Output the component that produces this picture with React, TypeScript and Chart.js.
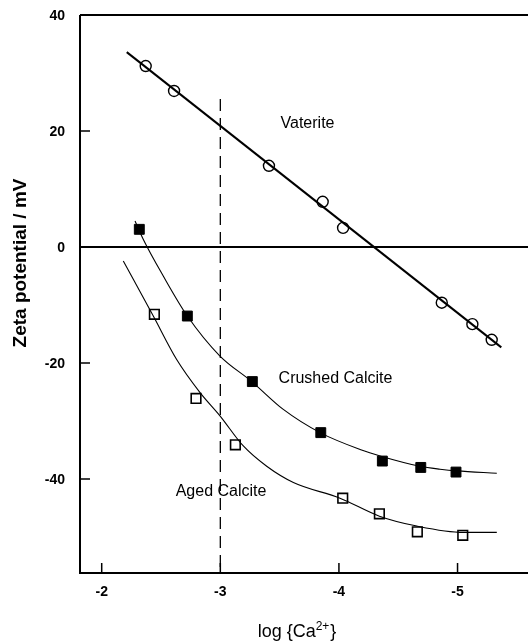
import React, { useEffect, useRef } from 'react';
import { Chart, registerables } from 'chart.js';
Chart.register(...registerables);

// Axis ticks
const xTicks = [-2, -3, -4, -5];
const yTicks = [40, 20, 0, -20, -40];
const xTickLabels = ['-2', '-3', '-4', '-5'];
const yTickLabels = ['40', '20', '0', '-20', '-40'];

// Vaterite (open circles) and its straight fit
const vateriteX = [-2.371, -2.61, -3.41, -3.863, -4.035, -4.867, -5.125, -5.288];
const vateriteY = [31.2, 26.9, 14.0, 7.8, 3.3, -9.6, -13.3, -16.0];
const vateriteFitX = [-2.211, -5.369];
const vateriteFitY = [33.6, -17.3];

// Crushed calcite (filled squares) and its curve
const crushedX = [-2.317, -2.722, -3.27, -3.847, -4.366, -4.69, -4.987];
const crushedY = [3.05, -11.9, -23.2, -32.0, -36.9, -38.0, -38.8];
const crushedCurveX = [-2.281, -2.351, -2.519, -2.722, -2.997, -3.265, -3.531, -3.841, -4.178, -4.361, -4.684, -4.852, -4.993, -5.331];
const crushedCurveY = [4.5, 1.3, -5.0, -11.9, -18.8, -23.2, -28.0, -32.0, -34.9, -36.1, -37.8, -38.3, -38.6, -39.0];

// Aged calcite (open squares) and its curve
const agedX = [-2.444, -2.795, -3.127, -4.032, -4.341, -4.661, -5.044];
const agedY = [-11.6, -26.1, -34.1, -43.3, -46.0, -49.1, -49.7];
const agedCurveX = [-2.182, -2.435, -2.632, -2.829, -2.997, -3.194, -3.391, -3.616, -4.009, -4.341, -4.656, -5.049, -5.331];
const agedCurveY = [-2.4, -11.9, -19.4, -25.1, -29.1, -34.3, -37.8, -40.6, -43.3, -46.4, -48.1, -49.2, -49.2];

// Reference lines
const dashX = [-3, -3];
const dashY = [25.5, -56.2];
const zeroX = [-1.817, -5.594];
const zeroY = [0, 0];

// Annotations
const labelTexts = ['Vaterite', 'Crushed Calcite', 'Aged Calcite'];
const labelX = [-3.735, -3.971, -3.006];
const labelY = [21.3, -22.6, -42.2];

const pts = (xs: number[], ys: number[]) => xs.map((x, i) => ({ x, y: ys[i] }));

const decorPlugin = {
  id: 'decor',
  afterDraw(chart: any) {
    const { ctx, chartArea, scales } = chart;
    const xs = scales.x;
    const ys = scales.y;
    ctx.save();
    ctx.strokeStyle = '#000';
    ctx.lineWidth = 2;
    ctx.beginPath();
    ctx.moveTo(chartArea.left, chartArea.top);
    ctx.lineTo(chartArea.right, chartArea.top);
    ctx.moveTo(chartArea.left, chartArea.top);
    ctx.lineTo(chartArea.left, chartArea.bottom);
    ctx.lineTo(chartArea.right, chartArea.bottom);
    ctx.stroke();
    // ticks (inward)
    ctx.lineWidth = 1.5;
    ctx.beginPath();
    yTicks.forEach((v) => {
      const py = ys.getPixelForValue(v);
      ctx.moveTo(chartArea.left, py);
      ctx.lineTo(chartArea.left + 10, py);
    });
    xTicks.forEach((v) => {
      const px = xs.getPixelForValue(v);
      ctx.moveTo(px, chartArea.bottom);
      ctx.lineTo(px, chartArea.bottom - 10);
    });
    ctx.stroke();
    // tick labels
    ctx.fillStyle = '#000';
    ctx.font = 'bold 14px "Liberation Sans", Arial, sans-serif';
    ctx.textBaseline = 'middle';
    ctx.textAlign = 'right';
    yTicks.forEach((v, i) => {
      ctx.fillText(yTickLabels[i], 65, ys.getPixelForValue(v) + 1);
    });
    ctx.textAlign = 'center';
    xTicks.forEach((v, i) => {
      ctx.fillText(xTickLabels[i], xs.getPixelForValue(v), 592);
    });
    // axis titles
    ctx.font = 'bold 19px "Liberation Sans", Arial, sans-serif';
    ctx.save();
    ctx.translate(21, 263);
    ctx.rotate(-Math.PI / 2);
    ctx.textAlign = 'center';
    ctx.fillText('Zeta potential / mV', 0, 0);
    ctx.restore();
    // x title with superscript
    ctx.textAlign = 'left';
    ctx.textBaseline = 'alphabetic';
    ctx.font = '18px "Liberation Sans", Arial, sans-serif';
    const t1 = 'log {Ca';
    const t2 = '2+';
    const t3 = '}';
    const w1 = ctx.measureText(t1).width;
    const w3 = ctx.measureText(t3).width;
    ctx.font = '12px "Liberation Sans", Arial, sans-serif';
    const w2 = ctx.measureText(t2).width;
    const total = w1 + w2 + w3 + 1;
    let sx = 297 - total / 2;
    const by = 637;
    ctx.font = '18px "Liberation Sans", Arial, sans-serif';
    ctx.fillText(t1, sx, by);
    sx += w1;
    ctx.font = '12px "Liberation Sans", Arial, sans-serif';
    ctx.fillText(t2, sx, by - 7);
    sx += w2 + 1;
    ctx.font = '18px "Liberation Sans", Arial, sans-serif';
    ctx.fillText(t3, sx, by);
    // annotations
    ctx.font = '16px "Liberation Sans", Arial, sans-serif';
    ctx.textAlign = 'center';
    ctx.textBaseline = 'middle';
    labelTexts.forEach((t, i) => {
      ctx.fillText(t, xs.getPixelForValue(labelX[i]), ys.getPixelForValue(labelY[i]));
    });
    ctx.restore();
  },
};

export default function App() {
  const ref = useRef<HTMLCanvasElement>(null);
  useEffect(() => {
    document.body.style.margin = '0';
    const canvas = ref.current!;
    const lineDs = (data: any[], width: number, extra: any = {}) => ({
      data,
      showLine: true,
      borderColor: '#000',
      borderWidth: width,
      pointRadius: 0,
      pointHoverRadius: 0,
      fill: false,
      ...extra,
    });
    const chart = new Chart(canvas, {
      type: 'scatter',
      data: {
        datasets: [
          lineDs(pts(zeroX, zeroY), 2),
          lineDs(pts(dashX, dashY), 1.3, { borderDash: [12, 7] }),
          lineDs(pts(vateriteFitX, vateriteFitY), 2),
          lineDs(pts(crushedCurveX, crushedCurveY), 1.1, { cubicInterpolationMode: 'monotone' }),
          lineDs(pts(agedCurveX, agedCurveY), 1.1, { cubicInterpolationMode: 'monotone' }),
          {
            data: pts(vateriteX, vateriteY),
            pointStyle: 'circle',
            pointRadius: 5.5,
            backgroundColor: '#fff',
            borderColor: '#000',
            borderWidth: 1.4,
          },
          {
            data: pts(crushedX, crushedY),
            pointStyle: 'rect',
            pointRadius: 7,
            backgroundColor: '#000',
            borderColor: '#000',
            borderWidth: 1,
          },
          {
            data: pts(agedX, agedY),
            pointStyle: 'rect',
            pointRadius: 6.8,
            backgroundColor: '#fff',
            borderColor: '#000',
            borderWidth: 1.6,
          },
        ],
      },
      options: {
        responsive: false,
        animation: false,
        devicePixelRatio: 1,
        layout: { autoPadding: false, padding: { left: 80, top: 15, right: 0, bottom: 68 } },
        plugins: { legend: { display: false }, tooltip: { enabled: false } },
        events: [],
        scales: {
          x: { type: 'linear', display: false, reverse: true, min: -5.594, max: -1.817 },
          y: { type: 'linear', display: false, min: -56.2, max: 40 },
        },
      },
      plugins: [decorPlugin],
    });
    return () => chart.destroy();
  }, []);
  return (
    <div style={{ width: 528, height: 641 }}>
      <canvas ref={ref} width={528} height={641} style={{ display: 'block' }} />
    </div>
  );
}
